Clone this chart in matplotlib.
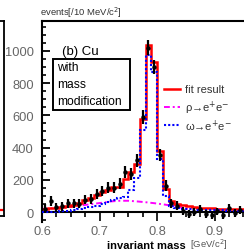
import numpy as np
import matplotlib
matplotlib.use("Agg")
import matplotlib.pyplot as plt
from matplotlib.ticker import MultipleLocator
from matplotlib.patches import Rectangle
from matplotlib.lines import Line2D

plt.rcParams['font.family'] = ['Liberation Sans', 'DejaVu Sans']

W, H = 244, 253

# 10 MeV bins from 0.60 to 0.97 GeV/c^2
bin_edges = np.round(np.arange(0.60, 0.9701, 0.01), 3)
bin_centers = bin_edges[:-1] + 0.005

# measured spectrum (b) Cu
data_counts = [20, 70, 30, 35, 55, 55, 50, 75, 80, 112,
               132, 150, 150, 175, 250, 236, 320, 590, 1020, 900,
               354, 163, 56, 40, 8, -12, 0, 18, -12, -20,
               5, -20, 25, -5, 12, 0, 10]
data_errors = [28, 30, 28, 28, 28, 28, 28, 28, 30, 32,
               32, 34, 34, 35, 38, 38, 40, 42, 45, 43,
               38, 33, 28, 26, 25, 24, 24, 24, 24, 23,
               23, 23, 23, 23, 23, 23, 23]

# fit result and omega component (histograms)
fit_counts = [20, 22, 27, 30, 38, 45, 58, 72, 90, 105,
              122, 135, 153, 158, 205, 248, 298, 575, 1040, 932,
              381, 143, 70, 52, 42, 35, 30, 27, 24, 22,
              20, 19, 18, 17, 16, 15, 15]
omega_counts = [0, 0, 2, 4, 8, 12, 18, 25, 32, 40,
                52, 62, 75, 85, 95, 135, 210, 510, 975, 870,
                330, 100, 35, 24, 19, 16, 14, 13, 12, 11,
                10, 10, 9, 9, 8, 8, 8]

# rho component (smooth curve)
rho_mass = [0.600, 0.615, 0.630, 0.645, 0.660, 0.675, 0.690, 0.705, 0.720,
            0.735, 0.750, 0.765, 0.780, 0.795, 0.810, 0.825, 0.840, 0.855]
rho_counts = [20, 22, 26, 31, 37, 44, 51, 58, 66,
              70, 70, 66, 61, 55, 48, 40, 30, 18]


def px_rect(x0, y0, w, h):
    # pixel box (top-left origin) -> figure fraction [l, b, w, h]
    return [x0 / W, 1 - (y0 + h) / H, w / W, h / H]


def fx(x):
    return x / W


def fy(y):
    return 1 - y / H


fig = plt.figure(figsize=(W / 100, H / 100), dpi=100)

# neighbouring panel (cut off on the left)
axl = fig.add_axes(px_rect(-60, 22, 64, 195))
axl.set_xlim(0, 1)
axl.set_ylim(-20, 1200)
axl.plot([0, 1], [20, 20], color='red', lw=1.6)
axl.set_xticks([])
axl.set_yticks([])
for s in axl.spines.values():
    s.set_linewidth(1.3)

# main panel
ax = fig.add_axes(px_rect(42, 22, 0.37 * 575, 200.7))
ax.set_xlim(0.60, 0.97)
ax.set_ylim(-60, 1186)

ax.stairs(omega_counts, bin_edges, baseline=None, color='blue', lw=1.5,
          ls=(0, (1, 1)), zorder=3)
ax.plot(rho_mass, rho_counts, color='magenta', lw=1.4,
        dashes=(3, 1.5, 1, 1.5), zorder=2)
ax.stairs(fit_counts, bin_edges, baseline=None, color='red', lw=1.8, zorder=2.5)
ax.errorbar(bin_centers, data_counts, yerr=data_errors, fmt='o', ms=2.2,
            color='black', elinewidth=1.6, capsize=0, zorder=5)

ax.spines['bottom'].set_position(('data', 0))
ax.spines['right'].set_visible(False)
for s in ['left', 'bottom', 'top']:
    ax.spines[s].set_linewidth(1.5)

ax.xaxis.set_major_locator(MultipleLocator(0.1))
ax.xaxis.set_minor_locator(MultipleLocator(0.025))
ax.yaxis.set_major_locator(MultipleLocator(200))
ax.yaxis.set_minor_locator(MultipleLocator(50))
ax.set_yticks([0, 200, 400, 600, 800, 1000])
ax.set_xticks([0.6, 0.7, 0.8, 0.9])
ax.set_xticklabels(['0.6', '0.7', '0.8', '0.9'])
ax.tick_params(axis='x', which='major', direction='out', length=6.5, width=1.2,
               pad=2.5, labelsize=9.3, labelcolor='#666666')
ax.tick_params(axis='x', which='minor', direction='out', length=3.5, width=1.2)
ax.tick_params(axis='y', which='major', direction='in', length=6, width=1.3,
               pad=6, labelsize=9.3, labelcolor='#666666')
ax.tick_params(axis='y', which='minor', direction='in', length=3, width=1.2)

# labels
fig.text(fx(122), fy(13), 'events[/10 MeV/c$^2$]', ha='right', va='center',
         fontsize=6.8, color='#333333')
fig.text(fx(107), fy(246), 'invariant mass', ha='left', va='center',
         fontsize=8, fontweight='bold')
fig.text(fx(190), fy(245), '[GeV/c$^2$]', ha='left', va='center',
         fontsize=6.8, color='#555555')

fig.text(fx(62), fy(52), '(b) Cu', ha='left', va='center', fontsize=9.5)

fig.patches.append(Rectangle((fx(53), fy(111)), fx(130) - fx(53), fy(60) - fy(111),
                             transform=fig.transFigure, fill=False, lw=1.4,
                             edgecolor='black'))
for y, t in [(68, 'with'), (85, 'mass'), (102, 'modification')]:
    fig.text(fx(57), fy(y), t, ha='left', va='center', fontsize=8.7)

# legend
legend_items = [
    (90, dict(color='red', lw=1.8), 'fit result'),
    (108, dict(color='magenta', lw=1.4, dashes=(3, 1.5, 1, 1.5)), 'ρ→e$^{+}$e$^{-}$'),
    (126, dict(color='blue', lw=1.5, ls=(0, (1, 1))), 'ω→e$^{+}$e$^{-}$'),
]
for y, style, label in legend_items:
    fig.add_artist(Line2D([fx(164), fx(180)], [fy(y), fy(y)],
                          transform=fig.transFigure, **style))
    fig.text(fx(185), fy(y), label, ha='left', va='center', fontsize=8,
             color='#333333')

fig.savefig('out.png', dpi=100)
